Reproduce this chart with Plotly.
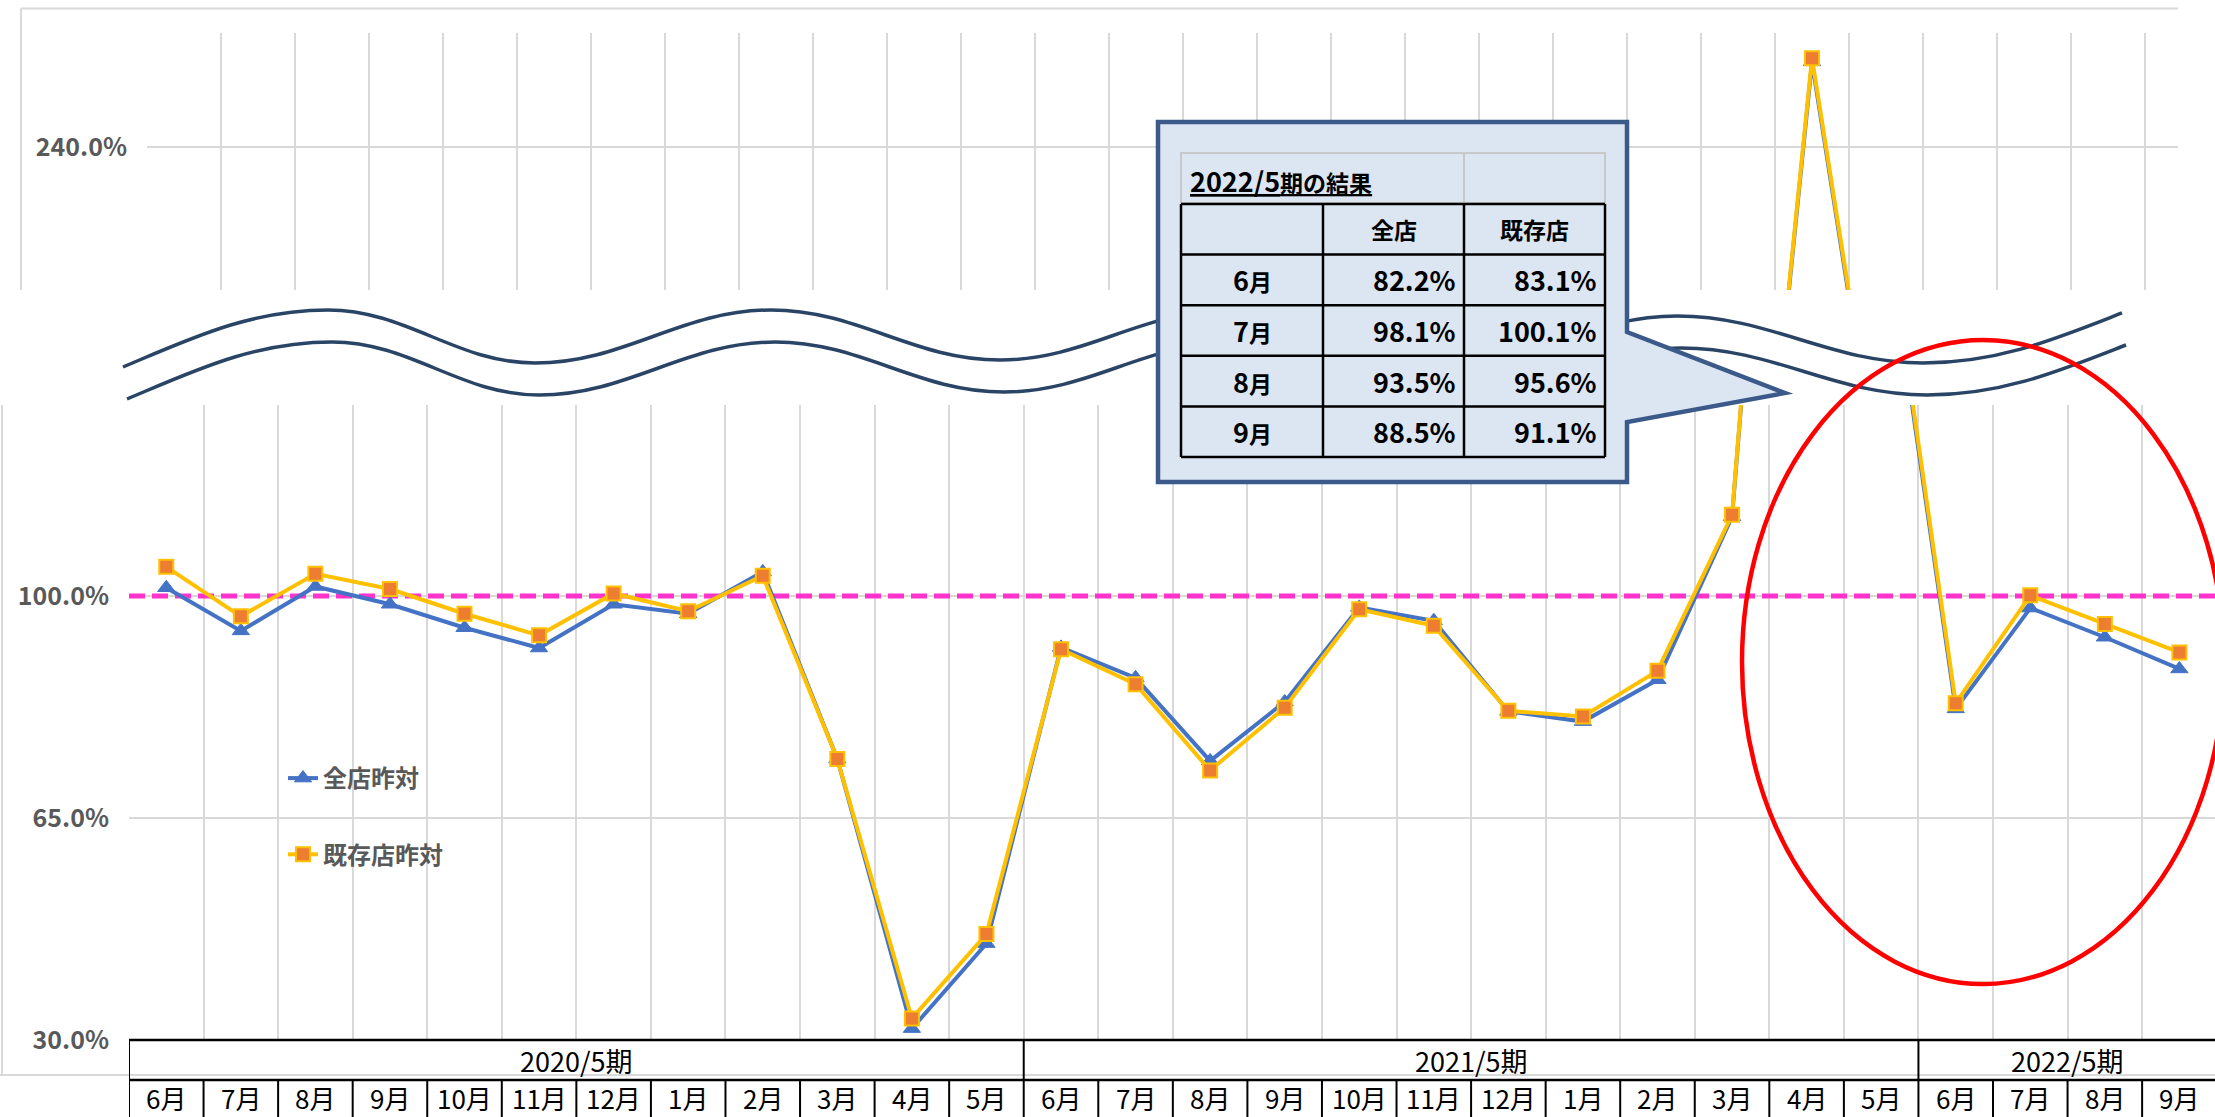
import plotly.graph_objects as go

# ---------------- data ----------------
months = ["6月", "7月", "8月", "9月", "10月", "11月", "12月", "1月", "2月", "3月", "4月", "5月",
          "6月", "7月", "8月", "9月", "10月", "11月", "12月", "1月", "2月", "3月", "4月", "5月",
          "6月", "7月", "8月", "9月"]
periods = ["2020/5期", "2021/5期", "2022/5期"]
period_len = [12, 12, 4]

zenten = [101.3, 94.5, 101.5, 98.7, 95.0, 91.8, 98.7, 97.2, 103.8, 74.3, 31.8, 45.2,
          91.9, 87.1, 74.0, 83.3, 98.2, 96.1, 81.8, 80.2, 86.8, 112.5, 256.8, 164.0,
          82.2, 98.1, 93.5, 88.5]
kizon = [104.6, 96.8, 103.5, 101.1, 97.2, 93.8, 100.4, 97.6, 103.2, 74.3, 33.4, 46.7,
         91.6, 86.1, 72.5, 82.4, 97.9, 95.3, 81.9, 81.0, 88.2, 112.8, 257.5, 165.0,
         83.1, 100.1, 95.6, 91.1]
series_names = ["全店昨対", "既存店昨対"]

table_title_num = "2022/5"
table_title_txt = "期の結果"
table_cols = ["全店", "既存店"]
table_start = 24  # first month of 2022/5期

ytick_bottom = [30, 65, 100]
ytick_top = [240]
ref_value = 100

# ---------------- layout helpers ----------------
W, H = 2215, 1117
FONT = "Noto Sans CJK JP, Noto Sans, sans-serif"
GRID = "#D9D9D9"
GRAY_TXT = "#595959"


def px(x):
    return x / W


def py(y):
    return 1 - y / H


n = len(months)
idx = list(range(n))
bounds = [i - 0.5 for i in range(n + 1)]

# bottom panel geometry
B_LEFT, B_TOP, B_BOT, CAT_W = 129, 405, 1040, 74.56
PX_PER_PCT_B = 222 / 35
# top panel geometry
T_LEFT, T_RIGHT, T_TOP, T_BOT, CAT_W_T = 147, 2178, 33, 290, 74.0
PX_PER_PCT_T = 5.07
T_REF_Y = 147  # pixel row of 240%

fig = go.Figure()

styles = [
    dict(line=dict(color="#4472C4", width=4),
         marker=dict(symbol="triangle-up", size=15, color="#4472C4",
                     line=dict(color="#4472C4", width=1))),
    dict(line=dict(color="#FFC000", width=4),
         marker=dict(symbol="square", size=14, color="#ED7D31",
                     line=dict(color="#FFC000", width=2))),
]
for xa, ya, show in [("x", "y", True), ("x2", "y2", False)]:
    for k, (vals, name) in enumerate(zip([zenten, kizon], series_names)):
        fig.add_trace(go.Scatter(
            x=idx, y=vals, mode="lines+markers", name=name,
            xaxis=xa, yaxis=ya, showlegend=show, legendgroup=name,
            hoverinfo="skip", **styles[k]))

shapes = []
annotations = []

# reference line at 100%
shapes.append(dict(type="line", xref="x", yref="y", x0=bounds[0], x1=bounds[-1],
                   y0=ref_value, y1=ref_value, layer="between",
                   line=dict(color="#FF33CC", width=5, dash="16px,7px")))

# chart frames (cropped chart borders)
shapes += [
    dict(type="line", xref="paper", yref="paper", x0=px(21), x1=px(2178), y0=py(8.5), y1=py(8.5),
         line=dict(color=GRID, width=2)),
    dict(type="line", xref="paper", yref="paper", x0=px(21), x1=px(21), y0=py(8.5), y1=py(290),
         line=dict(color=GRID, width=2)),
    dict(type="line", xref="paper", yref="paper", x0=px(2), x1=px(2), y0=py(405), y1=py(1075),
         line=dict(color=GRID, width=2)),
    dict(type="line", xref="paper", yref="paper", x0=0, x1=1, y0=py(1075), y1=py(1075),
         line=dict(color=GRID, width=2)),
]

# category table under the axis
ROW1, ROW2, ROW_END = 1040, 1080, 1118
for yy in (ROW1, ROW2):
    shapes.append(dict(type="line", xref="x", yref="paper", x0=bounds[0], x1=bounds[-1],
                       y0=py(yy), y1=py(yy), line=dict(color="black", width=2.5)))
period_edges = [0]
for L in period_len:
    period_edges.append(period_edges[-1] + L)
for i, b in enumerate(bounds):
    top = ROW1 if i in period_edges else ROW2
    shapes.append(dict(type="line", xref="x", yref="paper", x0=b, x1=b,
                       y0=py(top), y1=py(ROW_END), line=dict(color="black", width=2)))
for m, label in zip(idx, months):
    annotations.append(dict(x=m, y=py(1097), xref="x", yref="paper", text=label,
                            xanchor="center", yanchor="middle",
                            showarrow=False, font=dict(size=26, color="black", family=FONT)))
for p, (s, L) in enumerate(zip(period_edges[:-1], period_len)):
    annotations.append(dict(x=s + (L - 1) / 2, y=py(1060), xref="x", yref="paper",
                            xanchor="center", yanchor="middle",
                            text=periods[p], showarrow=False,
                            font=dict(size=27, color="black", family=FONT)))


# broken-axis wave lines
def wave_path(pts, s_start, s_end, dx_off=0, dy_off=0):
    pts = [(x + dx_off, y + dy_off) for x, y in pts]
    d = "M %.5f,%.5f" % (px(pts[0][0]), py(pts[0][1]))
    for j in range(len(pts) - 1):
        (x0, y0), (x1, y1) = pts[j], pts[j + 1]
        w = x1 - x0
        if j == 0:
            c1 = (x0 + 0.33 * w, y0 + s_start * 0.33 * w)
        else:
            c1 = (x0 + 0.38 * w, y0)
        if j == len(pts) - 2:
            c2 = (x1 - 0.33 * w, y1 - s_end * 0.33 * w)
        else:
            c2 = (x1 - 0.38 * w, y1)
        d += " C %.5f,%.5f %.5f,%.5f %.5f,%.5f" % (px(c1[0]), py(c1[1]), px(c2[0]), py(c2[1]),
                                                  px(x1), py(y1))
    return d


wave_pts = [(123, 367), (328, 310), (535, 363), (771, 310), (1000, 360), (1226, 311),
            (1450, 362), (1677, 316), (1923, 363), (2122, 313)]
for off in (0, 32):
    shapes.append(dict(type="path", xref="paper", yref="paper",
                       path=wave_path(wave_pts, -0.42, -0.39, dx_off=4 if off else 0, dy_off=off),
                       line=dict(color="#2A4466", width=3.5)))

# red ellipse highlight
shapes.append(dict(type="circle", xref="paper", yref="paper", x0=px(1742), x1=px(2224),
                   y0=py(984), y1=py(340), line=dict(color="#FF0000", width=4.5)))

# callout box
call = [(1158, 122), (1627, 122), (1627, 332), (1785, 393), (1627, 422), (1627, 482), (1158, 482)]
path = "M " + " L ".join("%.5f,%.5f" % (px(x), py(y)) for x, y in call) + " Z"
shapes.append(dict(type="path", xref="paper", yref="paper", path=path,
                   fillcolor="#DCE6F2", line=dict(color="#3B5A8A", width=4.5)))

# table inside callout
cols_x = [1181, 1323, 1464, 1605]
rows_y = [204, 254.6, 305.2, 355.8, 406.4, 457]
shapes.append(dict(type="rect", xref="paper", yref="paper", x0=px(1181), x1=px(1605),
                   y0=py(203), y1=py(153), line=dict(color="#C8C8C8", width=2)))
shapes.append(dict(type="line", xref="paper", yref="paper", x0=px(1464), x1=px(1464),
                   y0=py(203), y1=py(153), line=dict(color="#C8C8C8", width=2)))
for yy in rows_y:
    shapes.append(dict(type="line", xref="paper", yref="paper", x0=px(cols_x[0]), x1=px(cols_x[-1]),
                       y0=py(yy), y1=py(yy), line=dict(color="black", width=2.5)))
for xx in cols_x:
    shapes.append(dict(type="line", xref="paper", yref="paper", x0=px(xx), x1=px(xx),
                       y0=py(rows_y[0]), y1=py(rows_y[-1]), line=dict(color="black", width=2.5)))

TFONT = dict(size=23, color="black", family=FONT, weight="bold")
NUM = '<span style="font-size:27px">%s</span>'
annotations.append(dict(x=px(1188), y=py(180), xref="paper", yref="paper",
                        xanchor="left", yanchor="middle",
                        text="<u>" + NUM % table_title_num + table_title_txt + "</u>",
                        showarrow=False, font=TFONT))
for c, name in enumerate(table_cols):
    annotations.append(dict(x=px((cols_x[c + 1] + cols_x[c + 2]) / 2),
                            y=py((rows_y[0] + rows_y[1]) / 2), xref="paper", yref="paper",
                            xanchor="center", yanchor="middle",
                            text=name, showarrow=False, font=TFONT))
for r, (m, a, b) in enumerate(zip(months[table_start:], zenten[table_start:], kizon[table_start:])):
    yc = py((rows_y[r + 1] + rows_y[r + 2]) / 2)
    annotations.append(dict(x=px((cols_x[0] + cols_x[1]) / 2), y=yc, xref="paper", yref="paper",
                            xanchor="center", yanchor="middle",
                            text=NUM % m[:-1] + m[-1], showarrow=False, font=TFONT))
    annotations.append(dict(x=px(cols_x[2] - 6), y=yc, xref="paper", yref="paper",
                            xanchor="right", yanchor="middle",
                            text=NUM % ("%.1f%%" % a), showarrow=False, font=TFONT))
    annotations.append(dict(x=px(cols_x[3] - 6), y=yc, xref="paper", yref="paper",
                            xanchor="right", yanchor="middle",
                            text=NUM % ("%.1f%%" % b), showarrow=False, font=TFONT))

tickfont = dict(size=25, color=GRAY_TXT, family=FONT, weight="bold")
fig.update_layout(
    width=W, height=H, autosize=False,
    margin=dict(l=0, r=0, t=0, b=0, autoexpand=False),
    paper_bgcolor="white", plot_bgcolor="white",
    xaxis=dict(domain=[px(B_LEFT), 1], range=[-0.5, -0.5 + (W - B_LEFT) / CAT_W],
               tickvals=bounds, showticklabels=False, showgrid=True, gridcolor=GRID,
               gridwidth=2, zeroline=False, showline=False, ticks="", automargin=False),
    yaxis=dict(domain=[py(B_BOT), py(B_TOP)],
               range=[30, 30 + (B_BOT - B_TOP) / PX_PER_PCT_B],
               tickvals=ytick_bottom, ticktext=["%.1f%%" % v for v in ytick_bottom],
               showgrid=True, gridcolor=GRID, gridwidth=2, zeroline=False, showline=False,
               ticks="", tickfont=tickfont, ticklabelstandoff=19, automargin=False),
    xaxis2=dict(domain=[px(T_LEFT), px(T_RIGHT)], anchor="y2",
                range=[-0.5, -0.5 + (T_RIGHT - T_LEFT) / CAT_W_T],
                tickvals=bounds, showticklabels=False, showgrid=True, gridcolor=GRID,
                gridwidth=2, zeroline=False, showline=False, ticks="", automargin=False),
    yaxis2=dict(domain=[py(T_BOT), py(T_TOP)], anchor="x2",
                range=[240 - (T_BOT - T_REF_Y) / PX_PER_PCT_T, 240 + (T_REF_Y - T_TOP) / PX_PER_PCT_T],
                tickvals=ytick_top, ticktext=["%.1f%%" % v for v in ytick_top],
                showgrid=True, gridcolor=GRID, gridwidth=2, zeroline=False, showline=False,
                ticks="", tickfont=tickfont, ticklabelstandoff=19, automargin=False),
    legend=dict(x=px(283), y=py(756), xanchor="left", yanchor="top",
                bgcolor="rgba(0,0,0,0)", tracegroupgap=42, itemwidth=30,
                font=dict(size=24, color=GRAY_TXT, family=FONT, weight="bold")),
    shapes=shapes, annotations=annotations,
    showlegend=True,
)

fig.write_html("out.html", config={"displayModeBar": False},
               post_script="document.body.style.margin='0';document.body.style.overflow='hidden';")
